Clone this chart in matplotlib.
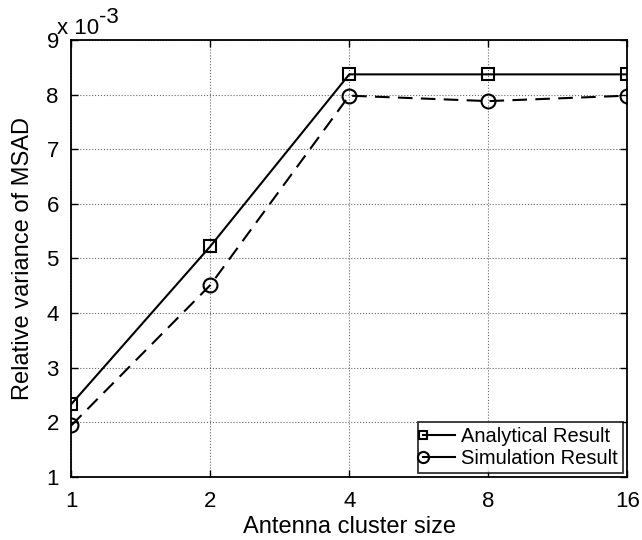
import matplotlib
matplotlib.use("Agg")
import matplotlib.pyplot as plt
from matplotlib.ticker import FixedLocator, FixedFormatter, NullLocator
from matplotlib.legend_handler import HandlerLine2D
from matplotlib.lines import Line2D

plt.rcParams['font.family'] = ['Liberation Sans', 'DejaVu Sans']

cluster_sizes = [1, 2, 4, 8, 16]
x_tick_labels = ['1', '2', '4', '8', '16']
analytical = [2.33, 5.22, 8.37, 8.37, 8.37]   # x 10^-3
simulation = [1.94, 4.51, 7.98, 7.88, 7.98]   # x 10^-3
y_ticks = [1, 2, 3, 4, 5, 6, 7, 8, 9]


class LeftMarkerHandler(HandlerLine2D):
    def create_artists(self, legend, orig_handle, xdescent, ydescent,
                       width, height, fontsize, trans):
        artists = super().create_artists(legend, orig_handle, xdescent,
                                         ydescent, width, height, fontsize,
                                         trans)
        for a in artists:
            if isinstance(a, Line2D):
                a.set_linestyle('-')
                a.set_markevery([0])
        return artists


fig = plt.figure(figsize=(6.42, 5.4), dpi=100)
ax = fig.add_axes([0.111, 0.117, 0.866, 0.809])

ax.plot(cluster_sizes, analytical, '-', color='black', lw=1.5, marker='s',
        ms=8, mfc='none', mec='black', mew=1.5, label='Analytical Result')
ax.plot(cluster_sizes, simulation, '--', color='black', lw=1.5, marker='o',
        ms=10, mfc='none', mec='black', mew=1.5, dashes=(7, 4),
        label='Simulation Result')

ax.set_xscale('log', base=2)
ax.set_xlim(1, 16)
ax.set_ylim(1, 9)
ax.xaxis.set_major_locator(FixedLocator(cluster_sizes))
ax.xaxis.set_major_formatter(FixedFormatter(x_tick_labels))
ax.xaxis.set_minor_locator(NullLocator())
ax.set_yticks(y_ticks)
ax.set_yticklabels([str(v) for v in y_ticks])

ax.grid(True, color='black', linestyle=':', linewidth=0.8, alpha=0.6)
ax.tick_params(direction='in', top=True, right=True, length=5, width=1,
               labelsize=16)
ax.tick_params(axis='x', pad=10)
ax.tick_params(axis='y', pad=9)
for s in ax.spines.values():
    s.set_linewidth(1.3)

ax.set_xlabel('Antenna cluster size', fontsize=17, labelpad=3)
ax.set_ylabel('Relative variance of MSAD', fontsize=17, labelpad=9)

# exponent multiplier, MATLAB style
fig.text(57 / 642, 1 - 34 / 540, 'x 10', fontsize=16, ha='left',
         va='baseline')
fig.text(99 / 642, 1 - 23 / 540, '-3', fontsize=16, ha='left',
         va='baseline')

leg = ax.legend(loc='lower right', fontsize=14.5, frameon=True, fancybox=False,
                edgecolor='black', handlelength=1.6, handletextpad=0.3,
                borderaxespad=0.2, borderpad=0.25, labelspacing=0.15,
                markerscale=0.8,
                handler_map={Line2D: LeftMarkerHandler()})
leg.get_frame().set_linewidth(1.3)

fig.savefig('out.png', dpi=100)
